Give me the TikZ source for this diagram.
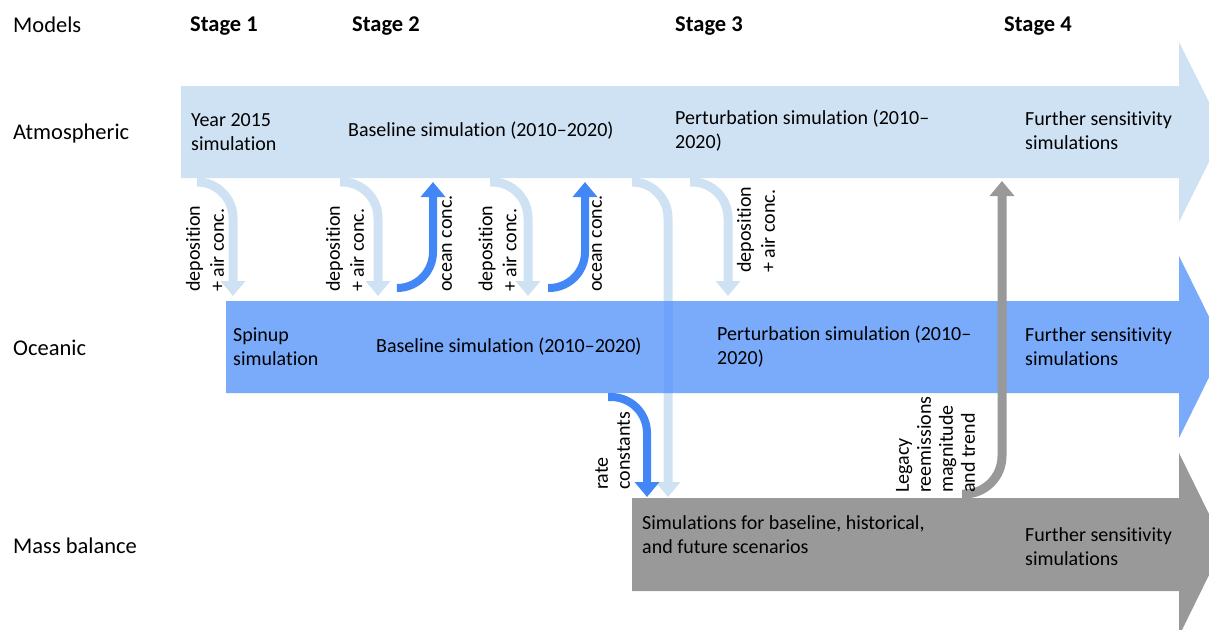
\documentclass[tikz,border=0pt]{standalone}
\usepackage{fontspec}
\setmainfont{Carlito}[Ligatures={NoCommon,NoRare,NoContextual}]
\usetikzlibrary{arrows.meta}
\definecolor{atm}{RGB}{207,226,243}
\definecolor{ocn}{RGB}{122,170,250}
\definecolor{ocnx}{RGB}{110,162,252}
\definecolor{blu}{RGB}{66,135,245}
\definecolor{gry}{RGB}{153,153,153}
\begin{document}
\begin{tikzpicture}[x=1pt,y=-1pt,
  lbl/.style={anchor=west,inner sep=0pt,font=\fontsize{22.5}{27}\selectfont},
  hdr/.style={anchor=west,inner sep=0pt,font=\fontsize{22.5}{27}\selectfont\bfseries},
  txt/.style={anchor=west,inner sep=0pt,align=left,font=\fontsize{20}{24}\selectfont},
  vtxt/.style={txt,rotate=90},
  vtxtn/.style={vtxt,font=\fontsize{20}{22}\selectfont},
  flow/.style={line width=9pt,rounded corners=36pt,-{Triangle[width=24pt,length=15pt]}},
  lflow/.style={flow,atm},
  bflow/.style={flow,blu,line width=8pt},
  gflow/.style={flow,gry,rounded corners=38pt}]
\useasboundingbox (0,0) rectangle (1209,629);
\clip (0,0) rectangle (1209,629);
% headers
\node[lbl] (models) at (13,25) {Models};
\node[hdr] (st1) at (190,26) {Stage 1};
\node[hdr] (st2) at (352,26) {Stage 2};
\node[hdr] (st3) at (675,26) {Stage 3};
\node[hdr] (st4) at (1004,26) {Stage 4};
\node[lbl] (latm) at (13,133) {Atmospheric};
\node[lbl] (locn) at (13,348) {Oceanic};
\node[lbl] (lmass) at (13,546) {Mass balance};
% bars
\fill[atm] (181,86) -- (1179,86) -- (1179,42) -- (1224,132) -- (1179,222) -- (1179,178) -- (181,178) -- cycle;
\fill[gry] (632,498) -- (1179,498) -- (1179,453) -- (1224,544.5) -- (1179,636) -- (1179,591) -- (632,591) -- cycle;
% long arrow atmospheric -> mass balance (under oceanic bar)
\coordinate (l6s) at (632,182);
\coordinate (l6e) at (668,497);
\draw[lflow] (l6s) -| (l6e);
\fill[ocn] (226,301) -- (1179,301) -- (1179,256) -- (1224,347) -- (1179,438) -- (1179,393) -- (226,393) -- cycle;
\fill[ocnx] (663.5,301) rectangle (672.5,393);
% bar texts
\node[txt] (a1) at (191,132) {Year 2015\\simulation};
\node[txt] (a2) at (348,131) {Baseline simulation (2010–2020)};
\node[txt] (a3) at (675,131) {Perturbation simulation (2010–\\2020)};
\node[txt] (a4) at (1025,131) {Further sensitivity\\simulations};
\node[txt] (o1) at (233,347) {Spinup\\simulation};
\node[txt] (o2) at (376,347) {Baseline simulation (2010–2020)};
\node[txt] (o3) at (717,347) {Perturbation simulation (2010–\\2020)};
\node[txt] (o4) at (1025,347) {Further sensitivity\\simulations};
\node[txt] (m1) at (642,535) {Simulations for baseline, historical,\\and future scenarios};
\node[txt] (m2) at (1025,547) {Further sensitivity\\simulations};
% exchange arrows
\coordinate (d1s) at (197,182); \coordinate (d1e) at (233,296);
\coordinate (d2s) at (340,182); \coordinate (d2e) at (378,296);
\coordinate (d3s) at (490,182); \coordinate (d3e) at (528,296);
\coordinate (d4s) at (690,182); \coordinate (d4e) at (728,296);
\coordinate (u1s) at (398,288); \coordinate (u1e) at (433,182);
\coordinate (u2s) at (548,288); \coordinate (u2e) at (585,182);
\coordinate (rcs) at (608,397); \coordinate (rce) at (647,497);
\coordinate (lgs) at (962,494); \coordinate (lge) at (1002,181);
\draw[lflow] (d1s) -| (d1e);
\draw[lflow] (d2s) -| (d2e);
\draw[lflow] (d3s) -| (d3e);
\draw[lflow] (d4s) -| (d4e);
\draw[bflow] (u1s) -| (u1e);
\draw[bflow] (u2s) -| (u2e);
\draw[bflow] (rcs) -| (rce);
\draw[gflow] (lgs) -| (lge);
% arrow labels
\node[vtxt] (t1) at (205,292) {deposition\\+ air conc.};
\node[vtxt] (t2) at (345,292) {deposition\\+ air conc.};
\node[vtxt] (t3) at (497.5,292) {deposition\\+ air conc.};
\node[vtxt] (t4) at (756,273) {deposition\\+ air conc.};
\node[vtxt] (t5) at (447,292) {ocean conc.};
\node[vtxt] (t6) at (597,292) {ocean conc.};
\node[vtxtn] (t7) at (612.5,490) {rate\\constants};
\node[vtxtn] (t8) at (935.5,493) {Legacy\\reemissions\\magnitude\\and trend};
\end{tikzpicture}
\end{document}
